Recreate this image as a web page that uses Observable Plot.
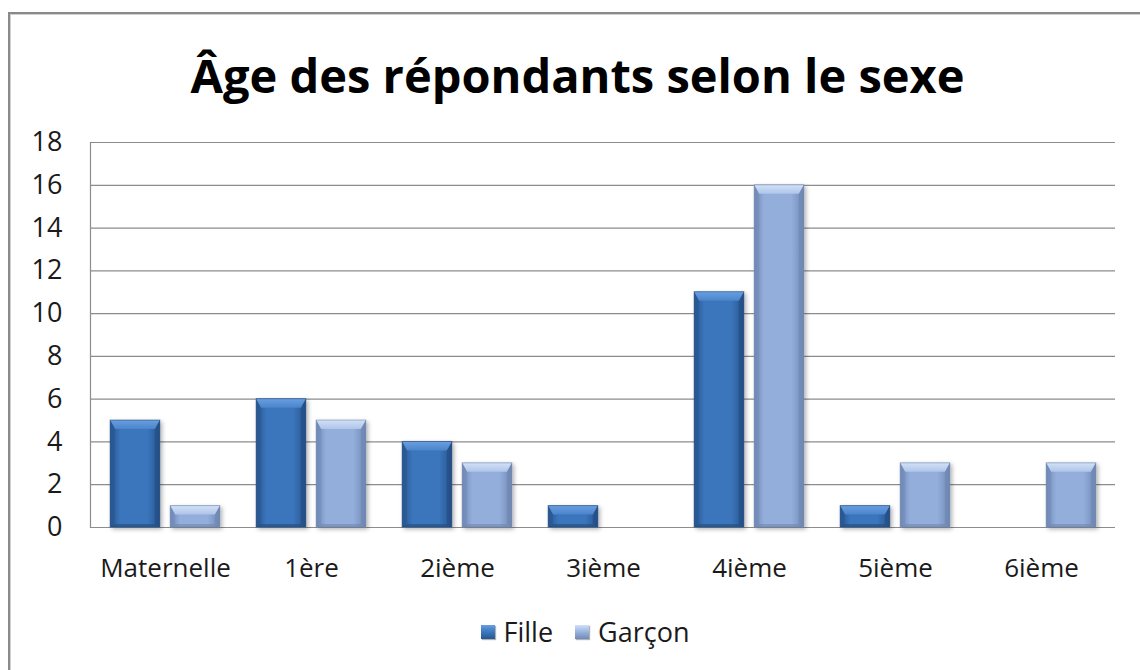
<!DOCTYPE html>
<html>
<head>
<meta charset="utf-8">
<script src="https://cdn.jsdelivr.net/npm/d3@7"></script>
<script src="https://cdn.jsdelivr.net/npm/@observablehq/plot@0.6"></script>
<style>
  html, body { margin: 0; padding: 0; background: #fff; }
  #wrap { position: relative; width: 1140px; height: 670px; overflow: hidden; font-family: "Open Sans", sans-serif; color: #1a1a1a; }
  #box { position: absolute; left: 8px; top: 12px; width: 1200px; height: 700px; border-left: 2px solid #8a8a8a; border-top: 2px solid #8a8a8a; box-shadow: inset 1px 1px 0 #d0d0d0; }
  #title { position: absolute; left: 0; width: 1155px; top: 45px; text-align: center; font-weight: 700; font-size: 47px; line-height: 60px; color: #000; }
  #chart { position: absolute; left: 0; top: 0; }
  #legend { position: absolute; left: 0; width: 1170px; top: 614px; display: flex; justify-content: center; gap: 22px; font-size: 27px; line-height: 36px; }
  .item { display: flex; align-items: center; gap: 9px; }
  .sw { width: 14px; height: 14px; box-shadow: 1px 1px 1px rgba(0,0,0,0.3); }
</style>
</head>
<body>
<div id="wrap">
  <div id="box"></div>
  <div id="title">Âge des répondants selon le sexe</div>
  <div id="chart"></div>
  <div id="legend"></div>
</div>
<script>
const categories = ["Maternelle", "1ère", "2ième", "3ième", "4ième", "5ième", "6ième"];
const series = ["Fille", "Garçon"];
const fille = [5, 6, 4, 1, 11, 1, 0];
const garcon = [1, 5, 3, 0, 16, 3, 3];
const yTicks = [0, 2, 4, 6, 8, 10, 12, 14, 16, 18];

const styles = {
  Fille:  { edge: "#28568f", mid: "#3a74bb", top1: "#6a9fe0", top2: "#4a84cb", bot: "#234d82" },
  Garçon: { edge: "#7089b6", mid: "#94aedb", top1: "#d2e1f6", top2: "#aec4e9", bot: "#6f87b1" }
};

const rowsF = categories.map((c, i) => ({cat: c, sex: "Fille", value: fille[i]}));
const rowsG = categories.map((c, i) => ({cat: c, sex: "Garçon", value: garcon[i]}));

const W = 1140, H = 670, mL = 90, mR = 25, mT = 142, mB = 143;
const band = (W - mL - mR) / categories.length;
const barW = band * 0.342, gap = band * 0.068, outer = (band - 2 * barW - gap) / 2;

function bevel(sex) {
  const s = styles[sex];
  return function(index, scales, values, dims, ctx, next) {
    const g = next(index, scales, values, dims, ctx);
    d3.select(g).selectAll("rect").each(function() {
      const r = d3.select(this);
      const x = +r.attr("x"), y = +r.attr("y"), w = +r.attr("width"), h = +r.attr("height");
      if (!(h > 0)) { r.remove(); return; }
      const p = this.parentNode;
      const grp = d3.select(p).insert("g", () => this).attr("filter", "url(#shadow)");
      grp.node().appendChild(this);
      const bt = Math.min(9, h / 2), bs = Math.min(5, w / 4), bb = Math.min(3, h / 4);
      grp.append("polygon").attr("points", [[x, y], [x + bs, y + bt], [x + bs, y + h - bb], [x, y + h]].join(" "))
        .attr("fill", s.edge).attr("opacity", 0.55);
      grp.append("polygon").attr("points", [[x + w, y], [x + w - bs, y + bt], [x + w - bs, y + h - bb], [x + w, y + h]].join(" "))
        .attr("fill", s.bot).attr("opacity", 0.7);
      grp.append("polygon").attr("points", [[x, y + h], [x + bs, y + h - bb], [x + w - bs, y + h - bb], [x + w, y + h]].join(" "))
        .attr("fill", s.bot).attr("opacity", 0.6);
      grp.append("polygon").attr("points", [[x, y], [x + w, y], [x + w - bs, y + bt], [x + bs, y + bt]].join(" "))
        .attr("fill", `url(#top-${sex === "Fille" ? "f" : "g"})`);
      grp.append("rect").attr("x", x).attr("y", y).attr("width", w).attr("height", h)
        .attr("fill", "none").attr("stroke", s.bot).attr("stroke-opacity", 0.6).attr("stroke-width", 1);
    });
    return g;
  };
}

const chart = Plot.plot({
  width: W, height: H,
  marginLeft: mL, marginRight: mR, marginTop: mT, marginBottom: mB,
  style: { fontFamily: "Open Sans, sans-serif", fontSize: "24px", color: "#1a1a1a", background: "transparent" },
  x: { domain: categories, padding: 0, label: null },
  y: { domain: [0, 18], label: null },
  marks: [
    Plot.ruleY(yTicks, { stroke: "#8c8c8c", strokeWidth: 1.2 }),
    Plot.frame({ anchor: "left", stroke: "#8c8c8c", strokeWidth: 1.2 }),
    Plot.axisY({ ticks: yTicks, tickSize: 0, tickPadding: 28, label: null, fontSize: 27, fill: "#1a1a1a" }),
    Plot.axisX({ tickSize: 0, tickPadding: 31, label: null, fontSize: 26, fill: "#1a1a1a" }),
    Plot.barY(rowsF, { x: "cat", y: "value", fill: "url(#grad-f)", insetLeft: outer, insetRight: band - outer - barW, render: bevel("Fille") }),
    Plot.barY(rowsG, { x: "cat", y: "value", fill: "url(#grad-g)", insetLeft: outer + barW + gap, insetRight: outer, render: bevel("Garçon") })
  ]
});

const defs = d3.select(chart).insert("defs", ":first-child");
function hGrad(id, s) {
  const g = defs.append("linearGradient").attr("id", id).attr("x1", 0).attr("x2", 1).attr("y1", 0).attr("y2", 0);
  g.append("stop").attr("offset", "0%").attr("stop-color", s.edge);
  g.append("stop").attr("offset", "20%").attr("stop-color", s.mid);
  g.append("stop").attr("offset", "75%").attr("stop-color", s.mid);
  g.append("stop").attr("offset", "100%").attr("stop-color", s.edge);
}
function vGrad(id, s) {
  const g = defs.append("linearGradient").attr("id", id).attr("x1", 0).attr("x2", 0).attr("y1", 0).attr("y2", 1);
  g.append("stop").attr("offset", "0%").attr("stop-color", s.top1);
  g.append("stop").attr("offset", "100%").attr("stop-color", s.top2);
}
hGrad("grad-f", styles.Fille); hGrad("grad-g", styles["Garçon"]);
vGrad("top-f", styles.Fille); vGrad("top-g", styles["Garçon"]);
const f = defs.append("filter").attr("id", "shadow").attr("x", "-20%").attr("y", "-20%").attr("width", "150%").attr("height", "150%");
f.append("feDropShadow").attr("dx", 2).attr("dy", 2).attr("stdDeviation", 2).attr("flood-color", "#000").attr("flood-opacity", 0.3);

document.getElementById("chart").appendChild(chart);

const legend = d3.select("#legend");
series.forEach(sx => {
  const s = styles[sx];
  const it = legend.append("div").attr("class", "item");
  it.append("div").attr("class", "sw").style("background", `linear-gradient(180deg, ${s.top1} 0%, ${s.top2} 30%, ${s.mid} 55%, ${s.edge} 100%)`);
  it.append("span").text(sx);
});
</script>
</body>
</html>
